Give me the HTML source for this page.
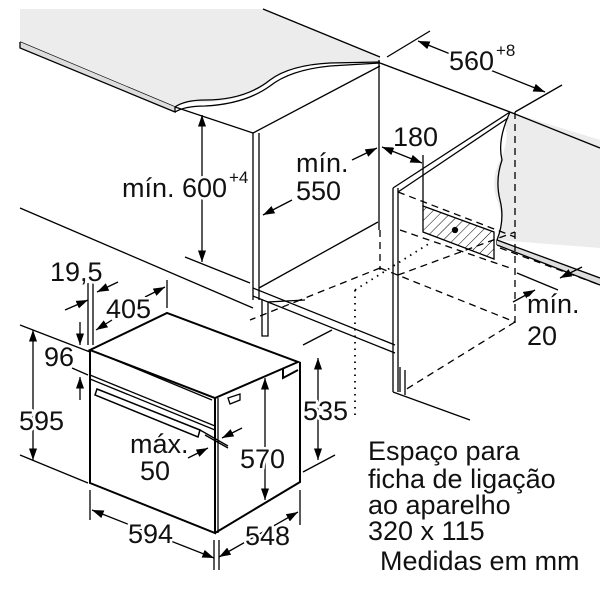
<!DOCTYPE html>
<html><head><style>
html,body{margin:0;padding:0;background:#fff}
svg{display:block}
text{font-family:"Liberation Sans",sans-serif;font-size:27px;fill:#111;stroke:#fff;stroke-width:5px;paint-order:stroke;stroke-linejoin:round}
text.s{font-size:17px}
</style></head><body>
<svg width="600" height="600" viewBox="0 0 600 600" xmlns="http://www.w3.org/2000/svg">
<defs>
<marker id="a" viewBox="0 0 10 10" refX="10" refY="5" markerWidth="9" markerHeight="9" orient="auto-start-reverse"><path d="M0,1.5 L10,5 L0,8.5z" fill="#000"/></marker>
<pattern id="h" width="7" height="7" patternUnits="userSpaceOnUse" patternTransform="rotate(45)"><line x1="0" y1="0" x2="0" y2="7" stroke="#000" stroke-width="1"/></pattern>
</defs>
<g fill="none" stroke="#000" stroke-width="1.3">
<!-- countertop -->
<path d="M20,42 L20,9 L263,9 L380,57 L380,62 Q330,62 300,66 Q280,70 265,85 Q235,105 185,102 L175,107 Z" fill="#ececec" stroke="none"/>
<path d="M20,42 L175,107 Q185,100 205,100 Q245,100 270,80 Q290,65 330,63 L380,62" />
<path d="M20,42 L20,48 L175,112 L175,107" fill="#ddd"/>
<path d="M175,112 Q185,106 205,106 Q245,104 270,86 Q290,70 330,66 L380,63"/>
<line x1="263" y1="9" x2="380" y2="57"/>
<!-- right wall panel -->
<path d="M510,112 L600,140 L600,248 L497,240 Q505,220 497,200 Q490,180 500,160 Q510,140 505,125 Z" fill="#ececec" stroke="none"/>
<line x1="380" y1="63" x2="510" y2="112"/>
<line x1="510" y1="112" x2="600" y2="148"/>
<path d="M510,112 Q497,140 502,160 Q495,180 500,200 Q505,220 497,240 L497,245"/>
<path d="M497,240 L600,278 L600,285 L497,245Z" fill="#ddd" stroke="none"/>
<path d="M497,240 L600,278 M497,245 L600,285" />
<!-- left cabinet -->
<line x1="175" y1="107" x2="253" y2="133"/>
<line x1="253" y1="133" x2="380" y2="66"/>
<line x1="253" y1="133" x2="253" y2="300"/>
<line x1="259" y1="133" x2="259" y2="300"/>
<line x1="379" y1="60" x2="379" y2="230"/>
<line x1="259" y1="288" x2="378" y2="222"/>
<line x1="253" y1="288" x2="395" y2="345"/>
<line x1="253" y1="296" x2="395" y2="353"/>
<path d="M262,300 L262,336 L268,336 L268,302 L305,300"/>
<!-- right cabinet -->
<line x1="393" y1="188" x2="393" y2="392"/>
<line x1="398" y1="188" x2="398" y2="392"/>
<line x1="393" y1="188" x2="510" y2="112"/>
<line x1="398" y1="192" x2="508" y2="118"/>
<line x1="393" y1="392" x2="470" y2="420"/>
<path d="M400,367 L400,392 M405,370 L405,395"/>
<!-- background guides -->
<line x1="20" y1="208" x2="253" y2="308"/>
<line x1="185" y1="257" x2="250" y2="283"/>
<!-- dashed -->
<g stroke-dasharray="7,5">
<line x1="398" y1="192" x2="515" y2="237"/>
<line x1="515" y1="112" x2="515" y2="325"/>
<line x1="380" y1="230" x2="380" y2="270"/>
<line x1="380" y1="268" x2="515" y2="322"/>
<line x1="380" y1="268" x2="300" y2="300"/>
<line x1="398" y1="275" x2="515" y2="232"/>
<line x1="515" y1="322" x2="405" y2="390"/>
<line x1="400" y1="230" x2="510" y2="268"/>
<line x1="500" y1="248" x2="600" y2="285"/>
<line x1="300" y1="300" x2="250" y2="320"/>
</g>
<g stroke-dasharray="1.5,5" stroke-width="1.8">
<line x1="355" y1="290" x2="430" y2="243"/>
<line x1="355" y1="290" x2="355" y2="420"/>
</g>
<!-- hatched -->
<path d="M423,206 L494,232 L494,259 L423,232 Z" fill="url(#h)"/>
<circle cx="455" cy="230" r="2.5" fill="#000"/>
<line x1="423" y1="155" x2="423" y2="206"/>
<!-- oven -->
<g stroke-width="2">
<path d="M90,350 L90,483 L215,533 L215,398"/>
<path d="M90,350 L167,313 L298,362 L215,398 Z"/>
<path d="M215,533 L300,482 L300,362"/>
<path d="M283,368 L283,378 L298,370"/>
</g>
<line x1="96" y1="352" x2="212" y2="400"/>
<line x1="90" y1="375" x2="215" y2="426"/>
<line x1="90" y1="379" x2="215" y2="430"/>
<line x1="218" y1="398" x2="218" y2="533"/>
<path d="M97,389 L200,430 L198,437 L95,395 Z" stroke-width="1.5"/>
<path d="M228,398 L240,394 L240,400 L230,404Z"/>
<!-- dimensions -->
<g marker-start="url(#a)" marker-end="url(#a)">
<line x1="202" y1="115" x2="202" y2="262"/>
<line x1="418" y1="41" x2="545" y2="92"/>
<line x1="318" y1="358" x2="318" y2="460"/>
<line x1="33" y1="330" x2="33" y2="460"/>
<line x1="265" y1="378" x2="265" y2="500"/>
<line x1="92" y1="510" x2="214" y2="558"/>
<line x1="219" y1="557" x2="298" y2="512"/>
<line x1="382" y1="147" x2="422" y2="163"/>
</g>
<line x1="292" y1="200" x2="263" y2="215" marker-end="url(#a)"/>
<line x1="352" y1="160" x2="377" y2="148" marker-end="url(#a)"/>
<line x1="582" y1="267" x2="560" y2="278" marker-end="url(#a)"/>
<line x1="513" y1="302" x2="535" y2="290" marker-end="url(#a)"/>
<line x1="65" y1="310" x2="88" y2="300" marker-end="url(#a)"/>
<line x1="118" y1="282" x2="97" y2="292" marker-end="url(#a)"/>
<line x1="112" y1="320" x2="96" y2="330" marker-end="url(#a)"/>
<line x1="145" y1="297" x2="165" y2="287" marker-end="url(#a)"/>
<line x1="80" y1="322" x2="80" y2="345" marker-end="url(#a)"/>
<line x1="80" y1="400" x2="80" y2="377" marker-end="url(#a)"/>
<line x1="242" y1="428" x2="222" y2="438" marker-end="url(#a)"/>
<line x1="188" y1="458" x2="208" y2="448" marker-end="url(#a)"/>
<!-- extension lines -->
<line x1="387" y1="57" x2="430" y2="31"/>
<line x1="515" y1="112" x2="562" y2="85"/>
<line x1="20" y1="325" x2="90" y2="352"/>
<line x1="20" y1="455" x2="88" y2="483"/>
<line x1="72" y1="368" x2="88" y2="375"/>
<line x1="88" y1="283" x2="88" y2="345"/>
<line x1="93" y1="283" x2="93" y2="345"/>
<line x1="167" y1="280" x2="167" y2="308"/>
<line x1="303" y1="345" x2="332" y2="330"/>
<line x1="303" y1="472" x2="335" y2="455"/>
<line x1="90" y1="490" x2="90" y2="520"/>
<line x1="214" y1="540" x2="214" y2="570"/>
<line x1="219" y1="540" x2="219" y2="570"/>
<line x1="300" y1="490" x2="300" y2="525"/>
<line x1="200" y1="430" x2="228" y2="446"/>
<line x1="205" y1="435" x2="228" y2="448"/>
<line x1="517" y1="273" x2="558" y2="290"/>
</g>
<text x="122" y="197">mín. 600</text><text class="s" x="229" y="183">+4</text>
<text x="296" y="172">mín.</text><text x="296" y="200">550</text>
<text x="449" y="70">560</text><text class="s" x="496" y="56">+8</text>
<text x="393" y="146">180</text>
<text x="527" y="313">mín.</text><text x="527" y="345">20</text>
<text x="50" y="281">19,5</text>
<text x="106" y="318">405</text>
<text x="44" y="366">96</text>
<text x="19" y="430">595</text>
<text x="130" y="453">máx.</text><text x="140" y="480">50</text>
<text x="240" y="468">570</text>
<text x="303" y="420">535</text>
<text x="128" y="543">594</text>
<text x="245" y="545">548</text>
<text x="368" y="460">Espaço para</text>
<text x="368" y="488">ficha de ligação</text>
<text x="368" y="514">ao aparelho</text>
<text x="368" y="540">320 x 115</text>
<text x="380" y="570">Medidas em mm</text>
</svg>
</body></html>
